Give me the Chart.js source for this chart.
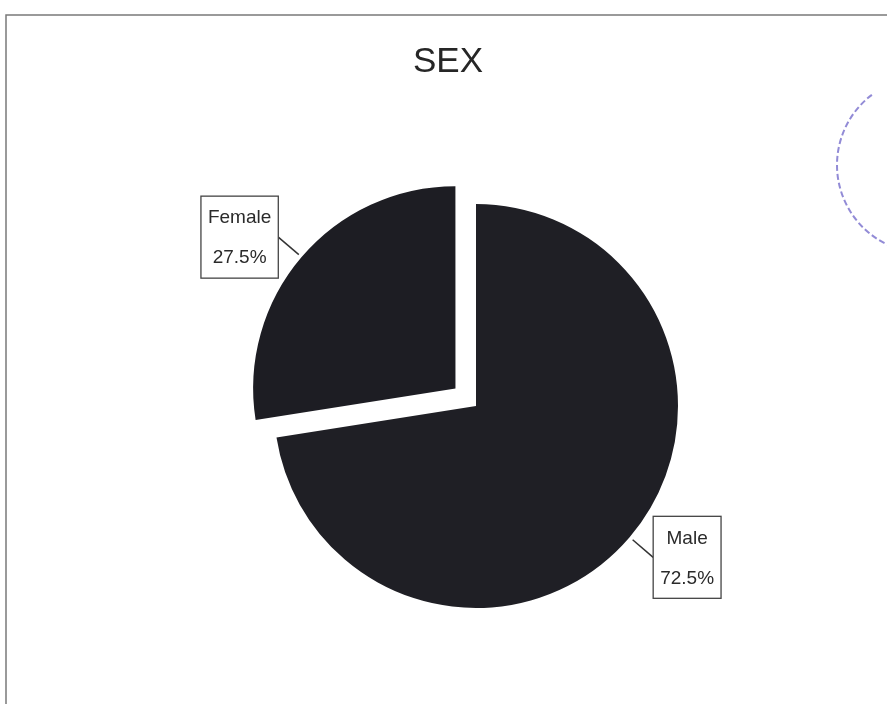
<!DOCTYPE html>
<html>
<head>
<meta charset="utf-8">
<script src="https://cdn.jsdelivr.net/npm/chart.js@4/dist/chart.umd.min.js"></script>
<style>
  html, body { margin: 0; padding: 0; background: #fff; }
  #wrap { width: 887px; height: 704px; }
</style>
</head>
<body>
<div id="wrap"><canvas id="myChart" width="887" height="704"></canvas></div>
<script>
let chartTitle = "SEX";
let labels = ["Male", "Female"];
let percents = [72.5, 27.5];
let sliceColors = ["#1f1f25", "#1d1d23"];
// Chart.js moves an arc by offset / 4 px
let explode = [0, 108];

const ctx = document.getElementById("myChart").getContext("2d");

// page frame, title and the stamp edge on the right
let framePlugin = {
  id: "frame",
  beforeDraw: (chart) => {
    let c = chart.ctx;
    c.save();
    c.fillStyle = "#fff";
    c.fillRect(0, 0, chart.width, chart.height);
    c.strokeStyle = "#7a7a7a";
    c.lineWidth = 1.5;
    c.beginPath();
    c.moveTo(6, chart.height);
    c.lineTo(6, 15);
    c.lineTo(chart.width, 15);
    c.stroke();

    c.fillStyle = "#262626";
    c.font = "35px 'Liberation Sans', Arial, sans-serif";
    c.textAlign = "center";
    c.textBaseline = "alphabetic";
    c.fillText(chartTitle, 448, 72);

    c.strokeStyle = "rgba(110, 100, 200, 0.75)";
    c.lineWidth = 2;
    c.setLineDash([6, 3]);
    c.beginPath();
    c.arc(925, 165, 88, Math.PI * 0.62, Math.PI * 1.3);
    c.stroke();
    c.restore();
  },
};

// boxed labels with short leader lines
let boxLabels = {
  id: "boxLabels",
  afterDatasetsDraw: (chart) => {
    let c = chart.ctx;
    let arcs = chart.getDatasetMeta(0).data;
    c.save();
    c.font = "19px 'Liberation Sans', Arial, sans-serif";
    c.textAlign = "center";
    c.textBaseline = "middle";
    arcs.forEach((arc, i) => {
      let mid = (arc.startAngle + arc.endAngle) / 2;
      let off = explode[i] / 4;
      let cx = arc.x + Math.cos(mid) * off;
      let cy = arc.y + Math.sin(mid) * off;
      let r = arc.outerRadius + 4;
      let ax = cx + Math.cos(mid) * r;
      let ay = cy + Math.sin(mid) * r;
      let bx = cx + Math.cos(mid) * (r + 27);
      let by = cy + Math.sin(mid) * (r + 27);

      c.strokeStyle = "#333";
      c.lineWidth = 1.5;
      c.beginPath();
      c.moveTo(ax, ay);
      c.lineTo(bx, by);
      c.stroke();

      let t1 = labels[i];
      let t2 = percents[i].toFixed(1) + "%";
      let w = Math.max(c.measureText(t1).width, c.measureText(t2).width) + 14;
      let h = 82;
      let left = Math.cos(mid) < 0 ? bx - w : bx;
      let top = by - h / 2;
      c.fillStyle = "#fff";
      c.fillRect(left, top, w, h);
      c.strokeStyle = "#444";
      c.lineWidth = 1.3;
      c.strokeRect(left, top, w, h);
      c.fillStyle = "#2a2a2a";
      c.fillText(t1, left + w / 2, top + 22);
      c.fillText(t2, left + w / 2, top + 62);
    });
    c.restore();
  },
};

new Chart(ctx, {
  type: "pie",
  data: {
    labels: labels,
    datasets: [
      {
        data: percents,
        backgroundColor: sliceColors,
        borderWidth: 0,
        offset: explode,
      },
    ],
  },
  options: {
    responsive: false,
    animation: false,
    events: [],
    radius: 202,
    layout: {
      padding: { left: 65, right: 0, top: 108, bottom: 0 },
    },
    plugins: {
      legend: { display: false },
      tooltip: { enabled: false },
      title: { display: false },
    },
  },
  plugins: [framePlugin, boxLabels],
});
</script>
</body>
</html>
